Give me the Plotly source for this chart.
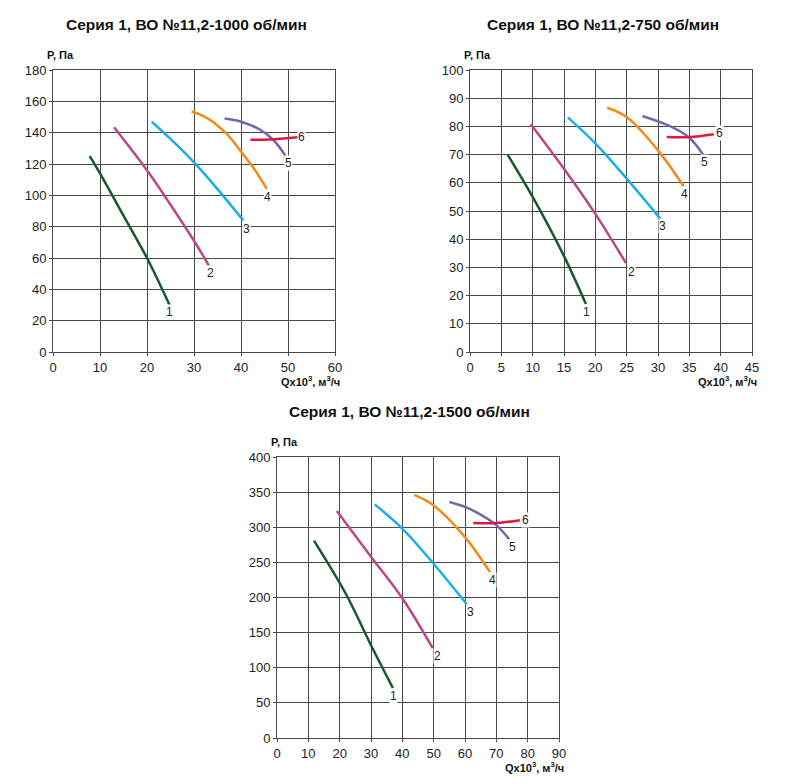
import plotly.graph_objects as go

W, H = 800, 784
OFF = 8  # page body margin shifts the figure by 8 px

# curve colours, 1..6
colors = ["#17592b", "#b8488a", "#1caeea", "#f28b1a", "#7a64ae", "#e3163f"]
names = ["1", "2", "3", "4", "5", "6"]

# --- 1000 об/мин ---
q1000 = [
    [7.8, 10, 15, 20, 24.8],
    [13, 20, 25, 30, 33.2],
    [21, 25, 30, 35, 40.5],
    [29.5, 33, 37, 40, 43, 45.5],
    [36.5, 40, 44, 47, 49.5],
    [42, 46, 49, 52],
]
p1000 = [
    [125, 114, 87, 60, 30],
    [143.5, 116, 94, 71, 55],
    [147, 136, 121, 104, 84],
    [153.5, 149, 139, 128, 116, 104],
    [149, 147, 142, 135, 125],
    [135.5, 135.7, 136.3, 137],
]
lbl_q1000 = [24.8, 33.6, 41.1, 45.7, 50, 52.9]
lbl_p1000 = [25.6, 50.5, 78.8, 99, 120.4, 137.4]

# --- 750 об/мин ---
q750 = [
    [6, 10, 15, 18.5],
    [9.7, 15, 20, 24.9],
    [15.6, 20, 25, 30.4],
    [21.9, 25, 30, 34.1],
    [27.5, 32, 35, 37.2],
    [31.4, 35, 38.9],
]
p750 = [
    [70, 55, 34, 17],
    [80.8, 65, 49, 31.5],
    [83.2, 74, 61.5, 47.2],
    [86.6, 83.3, 71.5, 58.7],
    [83.7, 80, 76, 70],
    [76.2, 76.2, 77.2],
]
lbl_q750 = [18.6, 25.7, 30.7, 34.2, 37.4, 39.8]
lbl_p750 = [14.2, 28.2, 44.6, 55.9, 67.4, 77.5]

# --- 1500 об/мин ---
q1500 = [
    [11.8, 22, 30, 37],
    [19.1, 30, 40, 49.7],
    [31.2, 40, 50, 60.6],
    [43.8, 50, 60, 68],
    [55, 60, 65, 70, 74.1],
    [62.6, 70, 77.5],
]
p1500 = [
    [281, 205, 132, 71],
    [323, 258, 199, 128],
    [332.6, 298, 248, 190],
    [346, 331, 286, 236],
    [336, 329, 318, 303, 283],
    [306, 306, 310],
]
lbl_q1500 = [37.3, 51.3, 61.8, 68.7, 75.2, 79.3]
lbl_p1500 = [59.3, 116.7, 180, 225, 272, 311]

charts = [
    # title, Q, P, label Q, label P, x range/step, y range/step, box in px (l, r, top, bottom)
    ("Серия 1, ВО №11,2-1000 об/мин", q1000, p1000, lbl_q1000, lbl_p1000,
     60, 10, 180, 20, (53, 335, 70, 352)),
    ("Серия 1, ВО №11,2-750 об/мин", q750, p750, lbl_q750, lbl_p750,
     45, 5, 100, 10, (470, 752, 70, 352)),
    ("Серия 1, ВО №11,2-1500 об/мин", q1500, p1500, lbl_q1500, lbl_p1500,
     90, 10, 400, 50, (277, 559, 457, 738)),
]

fig = go.Figure()
font = "Liberation Sans, Arial, sans-serif"
annotations = []


def px(v):
    return (v - OFF) / W


def py(v):
    return 1 - (v - OFF) / H


for i, (title, Q, P, lq, lp, xmax, xstep, ymax, ystep, box) in enumerate(charts):
    n = "" if i == 0 else str(i + 1)
    xa, ya = "x" + n, "y" + n
    l, r, t, b = box
    for k in range(6):
        fig.add_trace(go.Scatter(
            x=Q[k], y=P[k], mode="lines", xaxis=xa, yaxis=ya,
            line=dict(color=colors[k], width=2.5, shape="spline", smoothing=1),
            showlegend=False, hoverinfo="x+y",
        ))
        annotations.append(dict(
            x=lq[k], y=lp[k], xref=xa, yref=ya, text=names[k], showarrow=False,
            font=dict(family=font, size=12, color="#222"),
            bgcolor="white", borderpad=0,
        ))
    axis_common = dict(
        showgrid=True, gridcolor="#4a4a4a", gridwidth=1,
        showline=True, linecolor="#4a4a4a", linewidth=1, mirror=True,
        ticks="outside", ticklen=3, tickcolor="#4a4a4a",
        zeroline=False, automargin=False,
        tickfont=dict(family=font, size=13, color="#222"),
    )
    fig.update_layout({
        ("xaxis" + n): dict(axis_common, range=[0, xmax], dtick=xstep, tick0=0,
                            domain=[px(l), px(r)], anchor=ya),
        ("yaxis" + n): dict(axis_common, range=[0, ymax], dtick=ystep, tick0=0,
                            domain=[py(b), py(t)], anchor=xa),
    })
    ty = 25 if i < 2 else 412
    annotations.append(dict(
        x=px((l + r) / 2 - 8), y=py(ty), xref="paper", yref="paper",
        text="<b>" + title + "</b>", showarrow=False,
        font=dict(family=font, size=15.5, color="#111"),
        xanchor="center", yanchor="middle",
    ))
    annotations.append(dict(
        x=px(l - 8), y=py(t - 15), xref="paper", yref="paper",
        text="<b>P, Па</b>", showarrow=False,
        font=dict(family=font, size=11, color="#111"),
        xanchor="left", yanchor="middle",
    ))
    annotations.append(dict(
        x=px(r + 7), y=py(b + 29), xref="paper", yref="paper",
        text="<b>Qx10<sup>3</sup>, м<sup>3</sup>/ч</b>", showarrow=False,
        font=dict(family=font, size=11, color="#111"),
        xanchor="right", yanchor="middle",
    ))

fig.update_layout(
    width=W, height=H,
    margin=dict(l=0, r=0, t=0, b=0, autoexpand=False),
    plot_bgcolor="white", paper_bgcolor="white",
    annotations=annotations,
)

fig.write_html("out.html")
